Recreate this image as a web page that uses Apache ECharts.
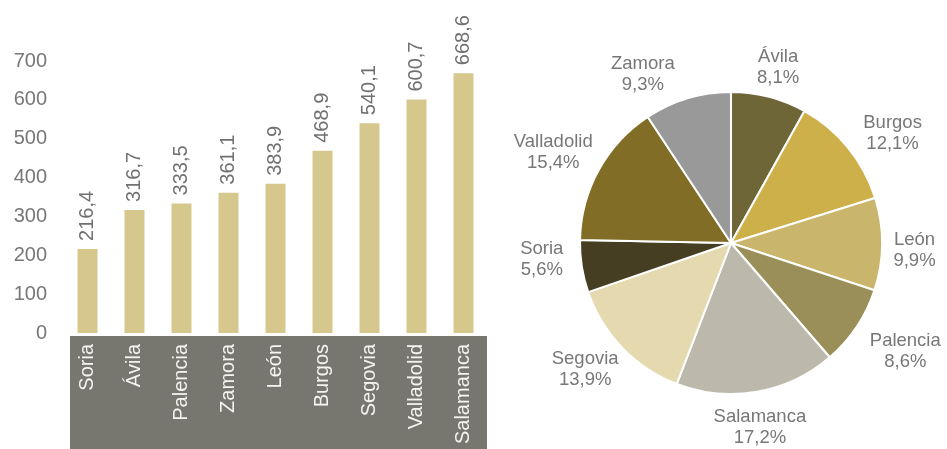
<!DOCTYPE html>
<html>
<head>
<meta charset="utf-8">
<script src="https://cdn.jsdelivr.net/npm/echarts@6/dist/echarts.min.js"></script>
<style>
  html, body { margin: 0; padding: 0; background: #fff; }
  #chart { width: 947px; height: 449px; }
</style>
</head>
<body>
<div id="chart"></div>
<script>
// barras: provincias ordenadas de menor a mayor
const barCategories = ["Soria", "Ávila", "Palencia", "Zamora", "León", "Burgos", "Segovia", "Valladolid", "Salamanca"];
const barValues = [216.4, 316.7, 333.5, 361.1, 383.9, 468.9, 540.1, 600.7, 668.6];
const yTicks = [0, 100, 200, 300, 400, 500, 600, 700];

// tarta: porcentaje por provincia
const pieNames = ["Ávila", "Burgos", "León", "Palencia", "Salamanca", "Segovia", "Soria", "Valladolid", "Zamora"];
const pieValues = [8.1, 12.1, 9.9, 8.6, 17.2, 13.9, 5.6, 15.4, 9.3];
const pieColors = ["#6f6638", "#cdb04a", "#cab56c", "#9a8f58", "#bcb9ac", "#e5d9b0", "#453e22", "#826d27", "#999999"];
// pequeños ajustes de las etiquetas (como el "mejor ajuste" de Excel)
const pieLabelShift = [[-1, 10], [13, 11], [-8, 6], [15, 2], [-4, -4], [-8, -7], [0, -13], [-10, 2], [-33, 15]];

const font = "Liberation Sans, Arial, sans-serif";
const comma = v => String(v).replace(".", ",");

const chart = echarts.init(document.getElementById("chart"));

const pieData = pieNames.map((n, i) => ({ name: n, value: pieValues[i] }));
const pieLabelData = pieNames.map((n, i) => ({
  name: n,
  value: pieValues[i],
  label: { offset: pieLabelShift[i] }
}));

chart.setOption({
  animation: false,
  textStyle: { fontFamily: font },
  graphic: [{
    type: "rect",
    z: -10,
    shape: { x: 70, y: 336, width: 417, height: 113 },
    style: { fill: "#77776f" }
  }],
  grid: { left: 64, top: 61, width: 423, height: 272 },
  xAxis: {
    type: "category",
    data: barCategories,
    axisLine: { show: false },
    axisTick: { show: false },
    axisLabel: {
      rotate: 90,
      margin: 11,
      color: "#f4f4f0",
      fontSize: 20,
      fontFamily: font
    }
  },
  yAxis: {
    type: "value",
    min: yTicks[0],
    max: yTicks[yTicks.length - 1],
    interval: 100,
    splitLine: { show: false },
    axisLine: { show: false },
    axisTick: { show: false },
    axisLabel: { color: "#777777", fontSize: 20, margin: 17, fontFamily: font }
  },
  series: [
    {
      type: "bar",
      data: barValues,
      barWidth: 20,
      itemStyle: { color: "#d6c78c" },
      label: {
        show: true,
        position: "top",
        rotate: 90,
        align: "left",
        verticalAlign: "middle",
        distance: 8,
        color: "#707070",
        fontSize: 20,
        fontFamily: font,
        formatter: p => comma(p.value)
      }
    },
    {
      type: "pie",
      center: [731, 243],
      radius: 151,
      clockwise: true,
      startAngle: 90,
      data: pieData,
      color: pieColors,
      itemStyle: { borderColor: "#ffffff", borderWidth: 2 },
      label: { show: false },
      labelLine: { show: false },
      emphasis: { disabled: true },
      silent: true
    },
    {
      // anillo transparente solo para colocar las etiquetas
      type: "pie",
      center: [731, 243],
      radius: [151, 226],
      clockwise: true,
      startAngle: 90,
      data: pieLabelData,
      itemStyle: { color: "rgba(0,0,0,0)" },
      label: {
        show: true,
        position: "inside",
        color: "#777777",
        fontSize: 18.5,
        lineHeight: 21,
        fontFamily: font,
        formatter: p => p.name + "\n" + comma(p.value) + "%"
      },
      labelLine: { show: false },
      emphasis: { disabled: true },
      silent: true
    }
  ]
});

window.onresize = function () {
  chart.resize();
};
</script>
</body>
</html>
